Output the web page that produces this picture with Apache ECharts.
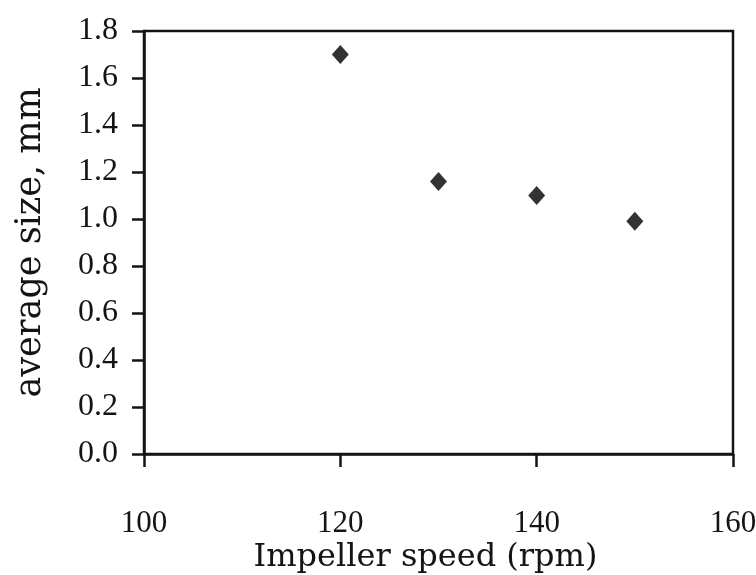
<!DOCTYPE html>
<html>
<head>
<meta charset="utf-8">
<script src="https://cdn.jsdelivr.net/npm/echarts@6/dist/echarts.min.js"></script>
<style>
  html, body { margin: 0; padding: 0; background: #ffffff; }
  #chart { width: 756px; height: 575px; }
</style>
</head>
<body>
<div id="chart"></div>
<script>
// Impeller speed (rpm) against average particle size (mm)
const impellerSpeed = [120, 130, 140, 150];
const averageSize = [1.70, 1.16, 1.10, 0.99];

const xTicks = { min: 100, max: 160, interval: 20 };
const yTicks = { min: 0, max: 1.8, interval: 0.2 };

const points = impellerSpeed.map((s, i) => [s, averageSize[i]]);

const ink = '#141414';
const serif = '"Liberation Serif", "Times New Roman", serif';
const titleFont = '"DejaVu Serif", serif';

const chart = echarts.init(document.getElementById('chart'), null, { renderer: 'canvas' });
chart.setOption({
  backgroundColor: '#ffffff',
  animation: false,
  grid: {
    left: 144, top: 31, right: 23, bottom: 121,
    containLabel: false,
    outerBoundsMode: 'none',
    show: true, borderColor: ink, borderWidth: 2.5, backgroundColor: 'transparent'
  },
  xAxis: {
    type: 'value',
    min: xTicks.min, max: xTicks.max, interval: xTicks.interval,
    name: 'Impeller speed (rpm)',
    nameLocation: 'middle',
    nameGap: 88,
    nameMoveOverlap: false,
    nameTextStyle: { fontFamily: titleFont, fontSize: 32, color: ink, padding: [0, 26, 0, 0] },
    axisLine: { show: true, lineStyle: { color: ink, width: 2.5 } },
    axisTick: { show: true, inside: false, length: 13, lineStyle: { color: ink, width: 2.5 } },
    axisLabel: { margin: 54, fontFamily: serif, fontSize: 31, color: ink },
    splitLine: { show: false }
  },
  yAxis: {
    type: 'value',
    min: yTicks.min, max: yTicks.max, interval: yTicks.interval,
    name: 'average size, mm',
    nameLocation: 'middle',
    nameGap: 96,
    nameRotate: 90,
    nameMoveOverlap: false,
    nameTextStyle: { fontFamily: titleFont, fontSize: 35, color: ink },
    axisLine: { show: true, lineStyle: { color: ink, width: 2.5 } },
    axisTick: { show: true, inside: false, length: 12, lineStyle: { color: ink, width: 2.5 } },
    axisLabel: {
      margin: 26, fontFamily: serif, fontSize: 32, color: ink,
      formatter: v => v.toFixed(1)
    },
    splitLine: { show: false }
  },
  series: [{
    type: 'scatter',
    data: points,
    symbol: 'diamond',
    symbolSize: [17, 19],
    itemStyle: { color: '#000000' }
  }]
});
</script>
</body>
</html>
